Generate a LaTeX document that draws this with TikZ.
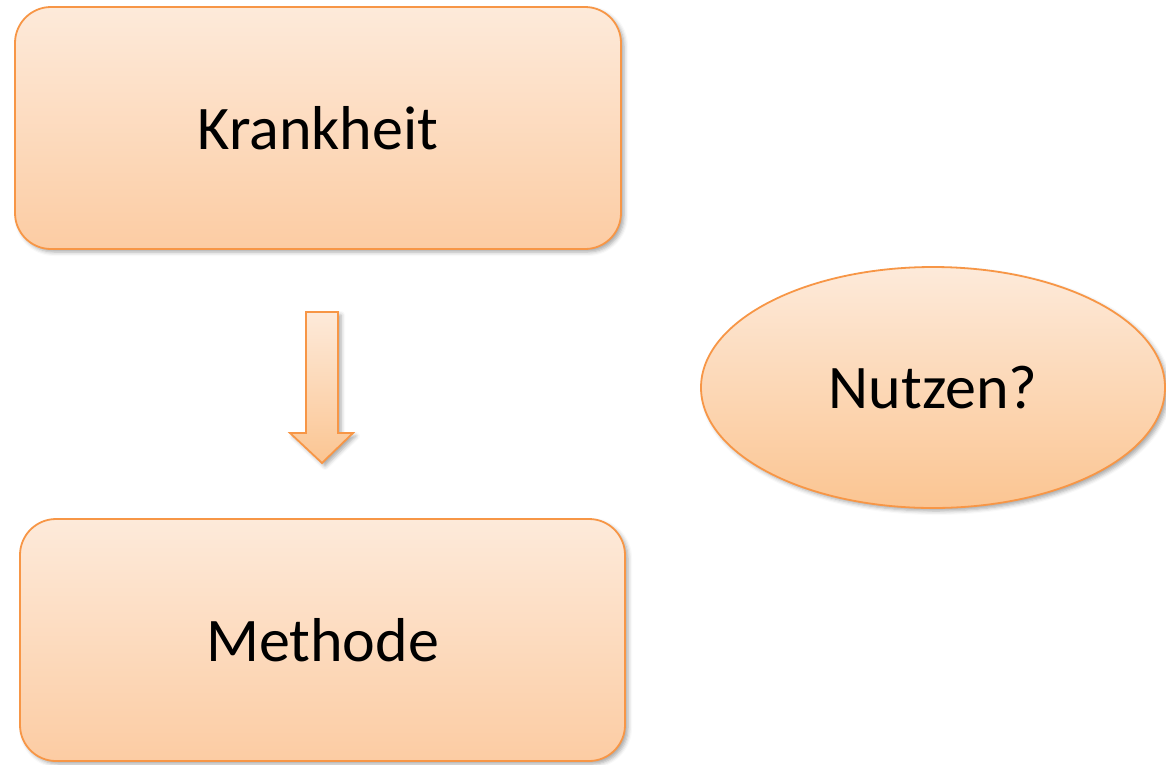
\documentclass[tikz,border=0pt]{standalone}
\usepackage{fontspec}
\setmainfont{Carlito}
\usetikzlibrary{shapes.geometric,shadows.blur}
\definecolor{edgeor}{HTML}{F79646}
\definecolor{ftop}{HTML}{FDEADA}
\definecolor{fbot}{HTML}{FCCCA3}
\definecolor{ebot}{HTML}{FBC592}
\tikzset{
  softshadow/.style={blur shadow={shadow xshift=3pt, shadow yshift=-3pt, shadow blur radius=4pt, shadow opacity=35}},
  boxnode/.style={rectangle, rounded corners=36pt, draw=edgeor, line width=1.8pt,
    top color=ftop, bottom color=fbot, softshadow, font=\fontsize{62}{74}\selectfont,
    minimum height=242pt, inner sep=0pt},
  ellnode/.style={ellipse, draw=edgeor, line width=1.8pt, top color=ftop, bottom color=ebot,
    softshadow, font=\fontsize{62}{74}\selectfont, minimum width=464pt, minimum height=241pt, inner sep=0pt},
  blockarrow/.style={draw=edgeor, line width=1.8pt, top color=ftop, bottom color=ebot, softshadow, line join=miter}
}
\begin{document}
\begin{tikzpicture}[x=1pt,y=-1pt]
\useasboundingbox (0,0) rectangle (1166,764);
\node[boxnode, minimum width=606pt] (krank) at (318,128) {Krankheit};
\node[boxnode, minimum width=605pt] (meth) at (322.5,640) {Methode};
\node[ellnode] (nutz) at (933,387.5) {Nutzen?};
\coordinate (atop) at (322,312);
\coordinate (atip) at (322,463);
\path[blockarrow] ([xshift=-16pt]atop) -- ([xshift=16pt]atop) -- ([xshift=16pt]atop |- 0,433)
  -- ([xshift=31pt]atip |- 0,433) -- (atip) -- ([xshift=-32pt]atip |- 0,433)
  -- ([xshift=-16pt]atop |- 0,433) -- cycle;
\end{tikzpicture}
\end{document}
